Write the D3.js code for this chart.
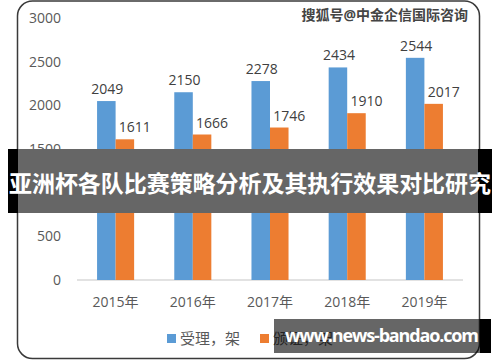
<!DOCTYPE html>
<html lang="zh">
<head>
<meta charset="UTF-8">
<title>亚洲杯各队比赛策略分析及其执行效果对比研究</title>
<script src="https://d3js.org/d3.v7.min.js"></script>
<style>
    body { margin: 0; background: #fff; }
    svg { display: block; }
    text { font-family: "Open Sans", "Noto Sans CJK SC", sans-serif; }
</style>
</head>
<body>
<div id="chart"></div>
<script>
    // data
    const years = ["2015年", "2016年", "2017年", "2018年", "2019年"];
    const seriesNames = ["受理，架", "颁证，架"];
    const accepted = [2049, 2150, 2278, 2434, 2544];
    const issued = [1611, 1666, 1746, 1910, 2017];
    const yTicks = [0, 500, 1000, 1500, 2000, 2500, 3000];
    const colors = ["#5b9bd5", "#ed7d31"];

    const width = 500, height = 362;

    const svg = d3.select("#chart").append("svg")
        .attr("width", width)
        .attr("height", height);

    // rounded frame of the picture
    svg.append("rect")
        .attr("x", 17.5).attr("y", 1)
        .attr("width", 462).attr("height", 357.5)
        .attr("rx", 15)
        .attr("fill", "#fff")
        .attr("stroke", "#3a3a3a")
        .attr("stroke-width", 1.5);

    const x = d3.scaleBand()
        .domain(years)
        .range([77, 463])
        .paddingInner(0.52)
        .paddingOuter(0.26);

    const xSub = d3.scaleBand()
        .domain(seriesNames)
        .range([0, x.bandwidth()]);

    const y = d3.scaleLinear()
        .domain([0, 3000])
        .range([280, 18]);

    // y tick labels
    svg.append("g").selectAll("text")
        .data(yTicks)
        .join("text")
        .attr("x", 61)
        .attr("y", d => y(d))
        .attr("dy", "0.35em")
        .attr("text-anchor", "end")
        .attr("font-size", 14)
        .attr("fill", "#595959")
        .text(d => d);

    // base line
    svg.append("line")
        .attr("x1", 77).attr("x2", 463)
        .attr("y1", y(0)).attr("y2", y(0))
        .attr("stroke", "#d9d9d9")
        .attr("stroke-width", 1.5);

    const rows = years.map((yr, i) => ({ year: yr, values: [accepted[i], issued[i]] }));

    const groups = svg.append("g").selectAll("g")
        .data(rows)
        .join("g")
        .attr("transform", d => `translate(${x(d.year)},0)`);

    groups.selectAll("rect")
        .data(d => d.values.map((v, k) => ({ k, v })))
        .join("rect")
        .attr("x", d => xSub(seriesNames[d.k]))
        .attr("y", d => y(d.v))
        .attr("width", xSub.bandwidth())
        .attr("height", d => y(0) - y(d.v))
        .attr("fill", d => colors[d.k]);

    // value labels, orange ones sit a little to the right
    groups.selectAll("text")
        .data(d => d.values.map((v, k) => ({ k, v })))
        .join("text")
        .attr("x", d => xSub(seriesNames[d.k]) + xSub.bandwidth() / 2 + (d.k === 1 ? 10 : 1))
        .attr("y", d => y(d.v) - 7)
        .attr("text-anchor", "middle")
        .attr("font-size", 14)
        .attr("fill", "#404040")
        .text(d => d.v);

    // x labels
    svg.append("g").selectAll("text")
        .data(years)
        .join("text")
        .attr("x", d => x(d) + x.bandwidth() / 2)
        .attr("y", 307)
        .attr("text-anchor", "middle")
        .attr("font-size", 14)
        .attr("fill", "#595959")
        .text(d => d);

    // legend
    const legend = svg.append("g").selectAll("g")
        .data(seriesNames)
        .join("g")
        .attr("transform", (d, i) => `translate(${167 + i * 93},334)`);
    legend.append("rect")
        .attr("width", 9).attr("height", 9)
        .attr("fill", (d, i) => colors[i]);
    legend.append("text")
        .attr("x", 13).attr("y", 4.5)
        .attr("dy", "0.38em")
        .attr("font-size", 15)
        .attr("fill", "#595959")
        .text(d => d);

    // source watermark, top right
    svg.append("text")
        .attr("x", 468).attr("y", 20)
        .attr("text-anchor", "end")
        .attr("font-family", "Noto Sans CJK SC")
        .attr("font-size", 14)
        .attr("font-weight", "bold")
        .attr("fill", "#444")
        .attr("stroke", "#fff")
        .attr("stroke-width", 2)
        .attr("paint-order", "stroke")
        .text("搜狐号@中金企信国际咨询");

    // title band over the chart
    svg.append("rect")
        .attr("x", 8).attr("y", 149).attr("width", 484).attr("height", 64)
        .attr("fill", "#000");
    svg.append("rect")
        .attr("x", 18).attr("y", 149).attr("width", 460).attr("height", 64)
        .attr("fill", "#fff").attr("opacity", 0.4);
    svg.append("text")
        .attr("x", 250).attr("y", 184)
        .attr("dy", "0.36em")
        .attr("text-anchor", "middle")
        .attr("font-family", "Noto Sans CJK SC")
        .attr("font-size", 23)
        .attr("font-weight", "bold")
        .attr("fill", "#fff")
        .attr("textLength", 482)
        .text("亚洲杯各队比赛策略分析及其执行效果对比研究");

    // site watermark, bottom right
    svg.append("rect")
        .attr("x", 274).attr("y", 319).attr("width", 206).attr("height", 34)
        .attr("fill", "#000").attr("opacity", 0.6);
    svg.append("rect")
        .attr("x", 480).attr("y", 319).attr("width", 11).attr("height", 34)
        .attr("fill", "#000");
    svg.append("text")
        .attr("x", 285).attr("y", 336)
        .attr("dy", "0.36em")
        .attr("font-size", 18)
        .attr("font-weight", "bold")
        .attr("fill", "#fff")
        .attr("textLength", 194)
        .text("www.news-bandao.com");
</script>
</body>
</html>
